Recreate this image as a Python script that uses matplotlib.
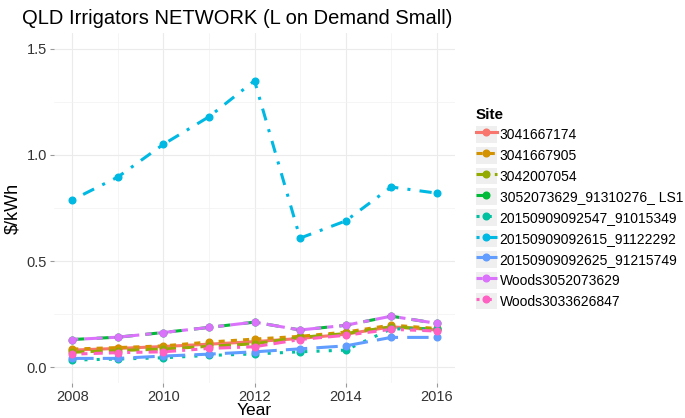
import matplotlib.pyplot as plt
from matplotlib.lines import Line2D
from matplotlib.patches import Rectangle
from matplotlib.legend_handler import HandlerTuple

plt.rcParams['font.family'] = ['Liberation Sans', 'DejaVu Sans']

years = [2008, 2009, 2010, 2011, 2012, 2013, 2014, 2015, 2016]

sites = ["3041667174", "3041667905", "3042007054", "3052073629_91310276_ LS1",
         "20150909092547_91015349", "20150909092615_91122292",
         "20150909092625_91215749", "Woods3052073629", "Woods3033626847"]

s3041667174 = [0.080, 0.088, 0.097, 0.108, 0.120, 0.135, 0.155, 0.190, 0.175]
s3041667905 = [0.085, 0.092, 0.100, 0.118, 0.132, 0.145, 0.165, 0.198, 0.182]
s3042007054 = [0.070, 0.078, 0.085, 0.098, 0.110, 0.140, 0.158, 0.190, 0.178]
s3052073629_ls1 = [0.130, 0.141, 0.163, 0.187, 0.212, 0.175, 0.197, 0.240, 0.206]
s20150909092547 = [0.033, 0.038, 0.044, 0.055, 0.062, 0.072, 0.080, 0.180, 0.180]
s20150909092615 = [0.788, 0.896, 1.050, 1.180, 1.350, 0.608, 0.689, 0.849, 0.820]
s20150909092625 = [0.041, 0.041, 0.052, 0.061, 0.072, 0.086, 0.100, 0.140, 0.140]
woods3052073629 = [0.130, 0.141, 0.163, 0.187, 0.212, 0.175, 0.197, 0.240, 0.206]
woods3033626847 = [0.061, 0.068, 0.072, 0.088, 0.096, 0.130, 0.150, 0.178, 0.170]

values = [s3041667174, s3041667905, s3042007054, s3052073629_ls1, s20150909092547,
          s20150909092615, s20150909092625, woods3052073629, woods3033626847]

# colores y tipos de linea por defecto de ggplot
colors = ["#F8766D", "#D39200", "#93AA00", "#00BA38", "#00C19F",
          "#00B9E3", "#619CFF", "#DB72FB", "#FF61C3"]
dashes = [None, (2, 2), (4, 2), (4, 4), (1, 3), (1, 3, 4, 3), (7, 3),
          (2, 2, 6, 2), (1, 2, 2, 2, 3, 2, 4, 2)]

fig = plt.figure(figsize=(6.85, 4.18), dpi=100)
ax = fig.add_axes([54 / 685, 35 / 418, 401 / 685, 350 / 418])

handles = []
for i, name in enumerate(sites):
    kw = {} if dashes[i] is None else {"dashes": dashes[i]}
    ax.plot(years, values[i], color=colors[i], lw=2.2, zorder=2 + i * 0.01, **kw)
    ax.plot(years, values[i], "o", color=colors[i], ms=4.8, zorder=3)
    key = Rectangle((0, 0), 1, 1, facecolor="#EFEFEF", edgecolor="none")
    ln = Line2D([0], [0], color=colors[i], lw=2.2, marker="o", ms=4.8, **kw)
    handles.append((key, ln))

ax.set_xlim(2007.6, 2016.4)
ax.set_ylim(-0.075, 1.575)
ax.set_xticks([2008, 2010, 2012, 2014, 2016])
ax.set_xticks([2009, 2011, 2013, 2015], minor=True)
ax.set_yticks([0.0, 0.5, 1.0, 1.5])
ax.set_yticklabels(["0.0", "0.5", "1.0", "1.5"])
ax.set_yticks([0.25, 0.75, 1.25], minor=True)
ax.grid(True, which="major", color="#EBEBEB", lw=0.8)
ax.grid(True, which="minor", color="#F2F2F2", lw=0.5)
ax.set_axisbelow(True)
for s in ax.spines.values():
    s.set_visible(False)
ax.tick_params(which="major", length=3, color="#999999", labelsize=10.5,
               labelcolor="#333333", pad=2)
ax.tick_params(which="minor", length=0)

ax.set_xlabel("Year", fontsize=12.5, labelpad=-1)
ax.set_ylabel("$/kWh", fontsize=13, labelpad=4)
fig.text(22 / 685, 1 - 19 / 418, "QLD Irrigators NETWORK (L on Demand Small)",
         fontsize=14.5, va="center", ha="left")

leg = fig.legend(handles, sites, loc="upper left",
                 bbox_to_anchor=(469 / 685, 1 - 101 / 418),
                 handler_map={tuple: HandlerTuple(ndivide=1)},
                 frameon=False, fontsize=10, title="Site",
                 title_fontproperties={"weight": "bold", "size": 11},
                 alignment="left", borderpad=0, handlelength=1.5,
                 handleheight=1.5, handletextpad=0.2, labelspacing=0.28)

fig.savefig("out.png", dpi=100)
